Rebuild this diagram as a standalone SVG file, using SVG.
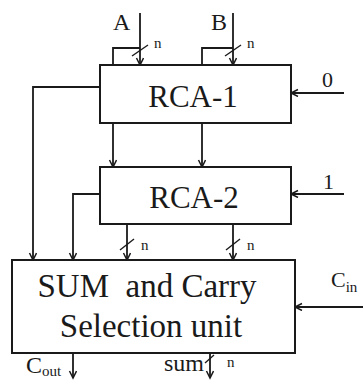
<svg xmlns="http://www.w3.org/2000/svg" width="363" height="380" viewBox="0 0 363 380">
<defs>
<style>
.box{fill:#fff;stroke:#1a1a1a;stroke-width:2}
.ln{fill:none;stroke:#1a1a1a;stroke-width:1.8}
.sl{fill:none;stroke:#1a1a1a;stroke-width:1.4}
text{font-family:"Liberation Serif","Times New Roman",serif;fill:#1a1a1a}
.big{font-size:31px;text-anchor:middle}
.sum{font-size:33px;text-anchor:middle;white-space:pre}
.lab{font-size:24px}
.n{font-size:15px}
.sub{font-size:15px}
</style>
<marker id="ar" markerWidth="10" markerHeight="10" refX="8" refY="4" orient="auto" markerUnits="userSpaceOnUse">
<path d="M1,0.5 L8,4 L1,7.5" fill="none" stroke="#1a1a1a" stroke-width="1.5"/>
</marker>
</defs>
<rect width="363" height="380" fill="#fff"/>
<g id="connectors">
<line class="ln" x1="140" y1="13" x2="140" y2="65" marker-end="url(#ar)"/>
<polyline class="ln" points="140,48 113,48 113,65"/>
<line class="ln" x1="113" y1="123" x2="113" y2="167" marker-end="url(#ar)"/>
<line class="ln" x1="233" y1="13" x2="233" y2="65" marker-end="url(#ar)"/>
<polyline class="ln" points="233,48 202,48 202,65"/>
<line class="ln" x1="202" y1="123" x2="202" y2="167" marker-end="url(#ar)"/>
<line class="ln" x1="344" y1="93" x2="291" y2="93" marker-end="url(#ar)"/>
<line class="ln" x1="344" y1="194" x2="291" y2="194" marker-end="url(#ar)"/>
<polyline class="ln" points="100,87 33,87 33,260" marker-end="url(#ar)"/>
<polyline class="ln" points="100,194 73,194 73,260" marker-end="url(#ar)"/>
<line class="ln" x1="127" y1="224" x2="127" y2="260" marker-end="url(#ar)"/>
<line class="ln" x1="233" y1="224" x2="233" y2="260" marker-end="url(#ar)"/>
<line class="ln" x1="363" y1="307" x2="295" y2="307" marker-end="url(#ar)"/>
<line class="ln" x1="73" y1="353" x2="73" y2="378" marker-end="url(#ar)"/>
<line class="ln" x1="210" y1="353" x2="210" y2="378" marker-end="url(#ar)"/>
<line class="sl" x1="132" y1="56" x2="148" y2="45"/>
<line class="sl" x1="225" y1="56" x2="241" y2="45"/>
<line class="sl" x1="120" y1="250" x2="134" y2="239"/>
<line class="sl" x1="226" y1="250" x2="240" y2="239"/>
<line class="sl" x1="205" y1="363" x2="214" y2="355"/>
</g>
<g id="labels">
<text class="lab" x="113" y="30">A</text>
<text class="lab" x="211" y="30">B</text>
<text class="n" x="154" y="48">n</text>
<text class="n" x="247" y="48">n</text>
<text class="lab" x="322" y="87" style="font-size:22px">0</text>
<text class="lab" x="323" y="189" style="font-size:22px">1</text>
<text class="n" x="141" y="250">n</text>
<text class="n" x="247" y="250">n</text>
<text class="lab" x="331" y="287" style="font-size:22px">C<tspan class="sub" dy="5">in</tspan></text>
<text class="lab" x="26" y="373">C<tspan class="sub" dy="3">out</tspan></text>
<text class="lab" x="164" y="371">sum</text>
<text class="n" x="227" y="367">n</text>
</g>
<g id="rca1">
<rect class="box" x="100" y="65" width="191" height="58"/>
<text class="big" x="193" y="107">RCA-1</text>
</g>
<g id="rca2">
<rect class="box" x="100" y="167" width="191" height="57"/>
<text class="big" x="194" y="208">RCA-2</text>
</g>
<g id="sel">
<rect class="box" x="12" y="260" width="283" height="93"/>
<text class="sum" x="147" y="297">SUM  and Carry</text>
<text class="sum" x="151" y="337">Selection unit</text>
</g>
</svg>
